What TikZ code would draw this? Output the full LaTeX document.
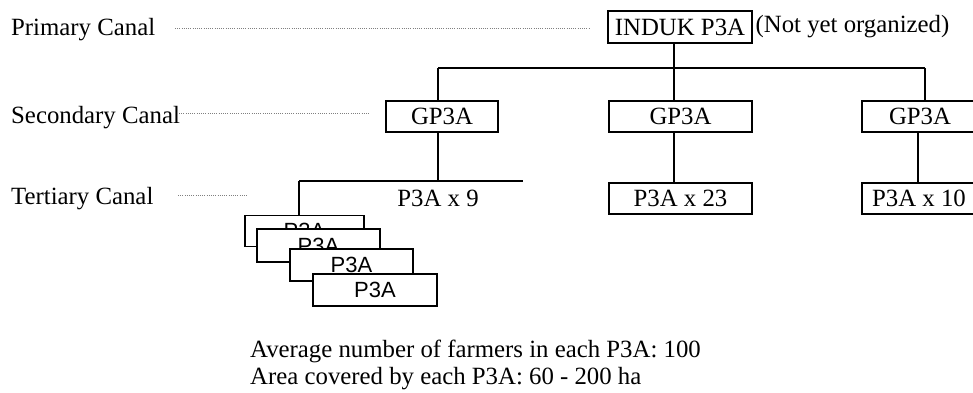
\documentclass[tikz,border=0pt]{standalone}
\usepackage{fontspec}
\setmainfont{Liberation Serif}
\newfontfamily\arialf{Liberation Sans}
\begin{document}
\begin{tikzpicture}[x=1pt,y=-1pt,
  every node/.style={font=\fontsize{24.8}{27}\selectfont},
  lab/.style={anchor=base west, inner sep=0pt},
  bigbox/.style={draw, line width=2.8pt, inner sep=0pt},
  stackbox/.style={draw, line width=1.2pt, fill=white, inner sep=0pt,
    font=\arialf\fontsize{22}{24}\selectfont},
  conn/.style={line width=1.3pt},
  dotline/.style={line width=0.9pt, gray, dash pattern=on 0.9pt off 1.3pt}]
\useasboundingbox (0,0) rectangle (973,392);

% level labels
\node[lab] (prim) at (11,35) {Primary Canal};
\node[lab] (sec)  at (11,123) {Secondary Canal};
\node[lab] (ter)  at (11,204) {Tertiary Canal};

% dotted leaders
\coordinate (d1a) at (175,28);  \coordinate (d1b) at (590,28);
\coordinate (d2a) at (179,113); \coordinate (d2b) at (370,113);
\coordinate (d3a) at (178,195); \coordinate (d3b) at (248,195);
\draw[dotline] (d1a) -- (d1b);
\draw[dotline] (d2a) -- (d2b);
\draw[dotline] (d3a) -- (d3b);

% boxes
\node[bigbox, minimum width=144pt, minimum height=32pt] (induk) at (680,27) {INDUK P3A};
\node[anchor=west, inner sep=2pt] (nyo) at (induk.east) {(Not yet organized)};

\node[bigbox, minimum width=112pt, minimum height=31pt] (gp1) at (442,116.5) {GP3A};
\node[bigbox, minimum width=143pt, minimum height=31pt] (gp2) at (680.5,116.5) {GP3A};
\node[bigbox, minimum width=116pt, minimum height=31pt] (gp3) at (920,116.5) {GP3A};

\node[bigbox, minimum width=143pt, minimum height=31pt] (p23) at (680.5,198.5) {P3A x 23};
\node[bigbox, minimum width=114pt, minimum height=31pt] (p10) at (919,198.5) {P3A x 10};

% stacked P3A boxes
\node[stackbox, minimum width=119pt, minimum height=31pt] (s1) at (304.5,231) {P3A};
\node[stackbox, minimum width=123pt, minimum height=33pt] (s2) at (318.5,245.5) {P3A};
\node[stackbox, minimum width=123pt, minimum height=32pt] (s3) at (351.5,265) {P3A};
\node[stackbox, minimum width=124pt, minimum height=32pt] (s4) at (375,290) {P3A};

% connectors
\coordinate (busL) at (438,68);
\coordinate (busR) at (925,68);
\coordinate (v2) at (674,68);
\draw[conn] (busL) -- (busR);
\draw[conn] (induk.south -| v2) -- (gp2.north -| v2);
\draw[conn] (busL) -- (gp1.north -| busL);
\draw[conn] (busR) -- (gp3.north -| busR);

\coordinate (t9) at (438,181);
\coordinate (tL) at (299,181);
\coordinate (tR) at (523,181);
\draw[conn] (gp1.south -| t9) -- (t9);
\draw[conn] (tL) -- (tR);
\draw[conn] (tL) -- (s1.north -| tL);
\node[anchor=base, inner sep=0pt] (p9) at (438,206) {P3A x 9};

\draw[conn] (gp2.south -| v2) -- (p23.north -| v2);
\coordinate (v3) at (918,150);
\draw[conn] (gp3.south -| v3) -- (p10.north -| v3);

% notes
\node[lab] (n1) at (250,357) {Average number of farmers in each P3A: 100};
\node[lab] (n2) at (250,384) {Area covered by each P3A: 60 - 200 ha};
\end{tikzpicture}
\end{document}
